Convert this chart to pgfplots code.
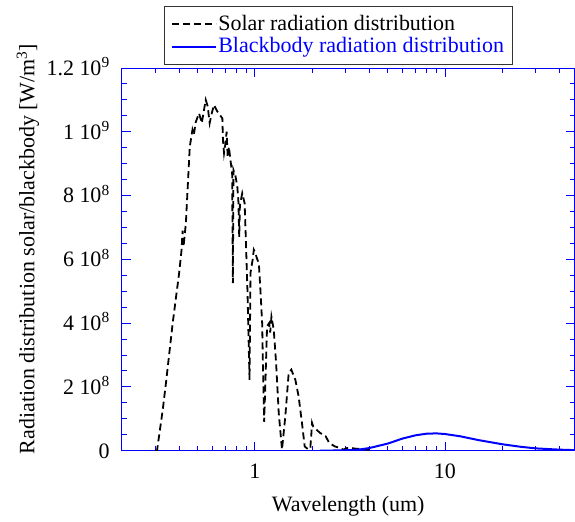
\documentclass[border=0pt]{standalone}
\usepackage{fontspec}
\setmainfont{LiberationSerif}[Extension=.ttf,UprightFont=*-Regular,BoldFont=*-Bold,ItalicFont=*-Italic,BoldItalicFont=*-BoldItalic]
\usepackage{pgfplots}
\pgfplotsset{compat=1.18}
\usetikzlibrary{calc}
\begin{document}
\rmfamily\fontsize{22bp}{26bp}\selectfont
\begin{tikzpicture}[font=\rmfamily\fontsize{22bp}{26bp}\selectfont]
\begin{axis}[
  name=ax, at={(0,0)}, anchor=south west,
  scale only axis, width=453bp, height=383bp,
  xmode=log, xmin=0.2, xmax=48, ymin=0, ymax=1.2e9,
  axis line style={blue, line width=0.8bp},
  every tick/.style={blue, line width=0.8bp},
  tick align=inside,
  major tick length=9bp, minor tick length=5bp,
  xtick={1,10}, xticklabels={1,10},
  minor xtick={0.2,0.3,0.4,0.5,0.6,0.7,0.8,0.9,2,3,4,5,6,7,8,9,20,30,40},
  ytick={0,2e8,4e8,6e8,8e8,1e9,1.2e9},
  yticklabels={0,{2 10\textsuperscript{8}},{4 10\textsuperscript{8}},{6 10\textsuperscript{8}},{8 10\textsuperscript{8}},{1 10\textsuperscript{9}},{1.2 10\textsuperscript{9}}},
  minor ytick={5e7,1e8,1.5e8,2.5e8,3e8,3.5e8,4.5e8,5e8,5.5e8,6.5e8,7e8,7.5e8,8.5e8,9e8,9.5e8,1.05e9,1.1e9,1.15e9},
  scaled y ticks=false,
  xticklabel style={anchor=base, inner sep=0pt, yshift=-28bp, black},
  yticklabel style={anchor=base east, inner sep=0pt, xshift=-12bp, yshift=-7.4bp, black},
  xlabel={Wavelength (um)},
  ylabel={Radiation distribution solar/blackbody [W/m\textsuperscript{3}]},
  every axis x label/.style={at={(axis description cs:0.5,-0.1585)}, anchor=base},
  every axis y label/.style={at={(axis description cs:-0.2075,0.527)}, rotate=90, anchor=center},
  legend cell align=left,
  legend image code/.code={\draw[#1] (0bp,0bp) -- (44bp,0bp);},
  legend style={at={(axis description cs:0.0927,1.008)}, anchor=south west,
    draw=black!80, line width=1bp, fill=white, inner xsep=7bp, inner ysep=7.5bp,
    row sep=2bp, nodes={inner sep=1bp},
    /tikz/every even column/.style={column sep=4bp},
    font=\rmfamily\fontsize{22bp}{26bp}\selectfont},
]
\addplot[black, line width=1.8bp, dash pattern=on 7bp off 4bp] coordinates {
(0.30,0) (0.306,0) (0.328,1.28e8) (0.341,2.12e8) (0.370,4.0e8) (0.400,5.57e8)
(0.412,6.3e8) (0.417,6.9e8) (0.422,6.4e8) (0.434,7.13e8) (0.443,8.18e8)
(0.455,9.53e8) (0.47,1.006e9) (0.478,9.9e8) (0.489,1.03e9) (0.509,1.058e9)
(0.526,1.027e9) (0.552,1.1e9) (0.565,1.08e9) (0.579,1.027e9) (0.595,1.06e9)
(0.610,1.084e9) (0.636,1.063e9) (0.675,1.042e9) (0.68,9.74e8) (0.689,9.33e8)
(0.70,9.6e8) (0.711,1.0e9) (0.72,9.2e8) (0.731,9.53e8) (0.745,9.1e8)
(0.760,8.7e8) (0.767,5.25e8) (0.772,8.8e8) (0.792,8.6e8) (0.809,8.28e8)
(0.820,7.8e8) (0.828,6.7e8) (0.835,7.7e8) (0.859,8.07e8) (0.884,7.76e8)
(0.894,6.9e8) (0.915,5.0e8) (0.938,2.22e8) (0.949,5.57e8) (0.975,6.0e8)
(0.988,6.3e8) (1.0,6.24e8) (1.03,6.0e8) (1.05,5.88e8) (1.07,5.05e8)
(1.093,4.0e8) (1.105,2.5e8) (1.12,9.0e7) (1.135,2.0e8) (1.16,3.9e8)
(1.19,4.0e8) (1.205,3.7e8) (1.223,4.2e8) (1.258,3.79e8) (1.294,2.75e8)
(1.336,1.18e8) (1.39,3e6) (1.447,1.07e8) (1.507,2.43e8) (1.556,2.54e8)
(1.6,2.35e8) (1.634,2.22e8) (1.70,1.7e8) (1.77,8.7e7) (1.83,1.3e7)
(1.92,3e6) (1.96,1.0e7) (1.98,4.5e7) (2.0,8.7e7) (2.03,7.5e7) (2.06,7.1e7)
(2.21,5.5e7) (2.36,4.5e7) (2.46,2.4e7) (2.64,1.3e7) (2.81,8e6) (2.93,3e6)
(3.05,8e6) (3.23,8e6) (3.4,6e6) (3.65,5e6) (4.0,2e6)
};
\addlegendentry{Solar radiation distribution}
\addplot[blue, line width=2bp] coordinates {
(2.2,0) (2.5,2e5) (3,1.0e6) (3.5,3.0e6) (4,8e6) (5,2.2e7) (6,3.8e7) (7,4.8e7)
(8,5.3e7) (9,5.4e7) (10,5.2e7) (12,4.5e7) (15,3.3e7) (20,2.0e7) (25,1.2e7)
(30,7e6) (40,3e6) (48,1.5e6)
};
\addlegendentry{\textcolor{blue}{Blackbody radiation distribution}}
\end{axis}
\pgfresetboundingbox
\path ($(ax.south west)+(-122bp,-71bp)$) rectangle ($(ax.north east)+(0.5bp,68bp)$);
\end{tikzpicture}
\end{document}
